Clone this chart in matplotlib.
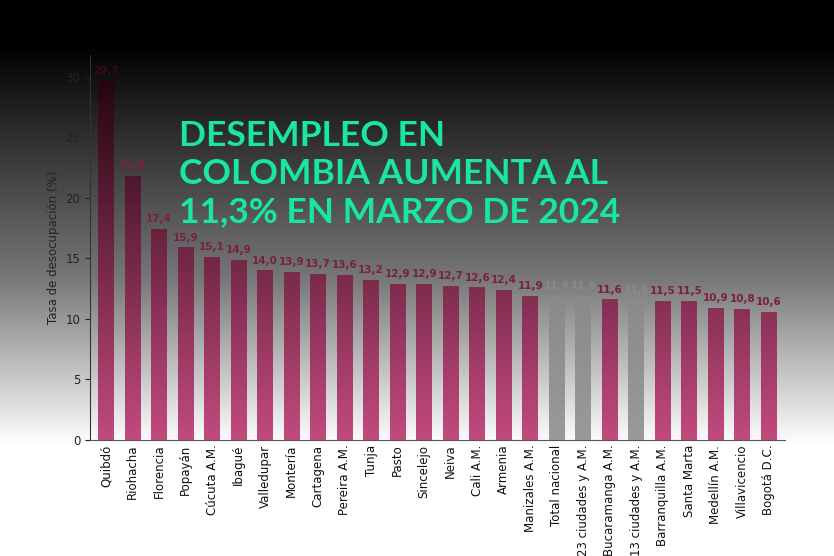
import numpy as np
import matplotlib.pyplot as plt
from matplotlib.colors import LinearSegmentedColormap

cities = ["Quibdó", "Riohacha", "Florencia", "Popayán", "Cúcuta A.M.", "Ibagué",
          "Valledupar", "Montería", "Cartagena", "Pereira A.M.", "Tunja", "Pasto",
          "Sincelejo", "Neiva", "Cali A.M.", "Armenia", "Manizales A.M.",
          "Total nacional", "23 ciudades y A.M.", "Bucaramanga A.M.",
          "13 ciudades y A.M.", "Barranquilla A.M.", "Santa Marta", "Medellín A.M.",
          "Villavicencio", "Bogotá D.C."]
rates = [29.7, 21.8, 17.4, 15.9, 15.1, 14.9, 14.0, 13.9, 13.7, 13.6, 13.2, 12.9,
         12.9, 12.7, 12.6, 12.4, 11.9, 11.9, 11.9, 11.6, 11.6, 11.5, 11.5, 10.9,
         10.8, 10.6]
grey = ["Total nacional", "23 ciudades y A.M.", "13 ciudades y A.M."]

fig = plt.figure(figsize=(8.34, 5.56), dpi=100)

# background gradient black -> white
bg = fig.add_axes([0, 0, 1, 1], zorder=-10)
grad = np.linspace(0, 1, 256).reshape(-1, 1)
bgmap = LinearSegmentedColormap.from_list(
    "bg", [(0, "#000000"), (0.08, "#000000"), (0.5, "#777777"), (0.8, "#ffffff"), (1, "#ffffff")])
bg.imshow(grad, aspect="auto", cmap=bgmap, extent=[0, 1, 0, 1], origin="upper")
bg.axis("off")

ax = fig.add_axes([0.108, 0.209, 0.833, 0.692])
ax.patch.set_alpha(0)
ymax = 31.8

barmap = LinearSegmentedColormap.from_list("bar", ["#1a0008", "#c24a7e"])
greymap = LinearSegmentedColormap.from_list("gr", ["#6e6e6e", "#9a9a9a"])
col_grad = np.linspace(0, 1, 256).reshape(-1, 1)
x = np.arange(len(cities))
bars = ax.bar(x, rates, width=0.6, color="none", edgecolor="none")
for b, c, v in zip(bars, cities, rates):
    cm = greymap if c in grey else barmap
    im = ax.imshow(col_grad, aspect="auto", cmap=cm, vmin=0, vmax=1,
                   extent=[b.get_x(), b.get_x() + b.get_width(), 0, ymax],
                   origin="upper", zorder=2)
    im.set_clip_path(b)
    lc = "#8a8a8a" if c in grey else "#7a1f45"
    if c == "Quibdó":
        lc = "#3a0a1c"
    ax.text(b.get_x() + b.get_width() / 2, v + 0.4, f"{v:.1f}".replace(".", ","),
            ha="center", va="bottom", fontsize=7.5, fontweight="bold", color=lc, zorder=3)
ax.set_xlim(-0.6, len(cities) - 0.4)
ax.set_ylim(0, ymax)

ax.set_xticks(x)
ax.set_xticklabels(cities, rotation=90, fontsize=8.5, color="#111111")
ax.set_yticks([0, 5, 10, 15, 20, 25, 30])
ax.tick_params(axis="y", labelsize=8.5, colors="#222222")
ax.tick_params(axis="x", length=0)
for s in ["top", "right"]:
    ax.spines[s].set_visible(False)
ax.spines["left"].set_color("#333333")
ax.spines["bottom"].set_color("#555555")
ax.set_ylabel("Tasa de desocupación (%)", fontsize=8.5, color="#222222")

fig.text(0.215, 0.785, "DESEMPLEO EN\nCOLOMBIA AUMENTA AL\n11,3% EN MARZO DE 2024",
         fontsize=25.5, fontweight="bold", color="#19e6a0", va="top", ha="left",
         family="Lato", linespacing=1.25)

fig.savefig("out.png", dpi=100)
